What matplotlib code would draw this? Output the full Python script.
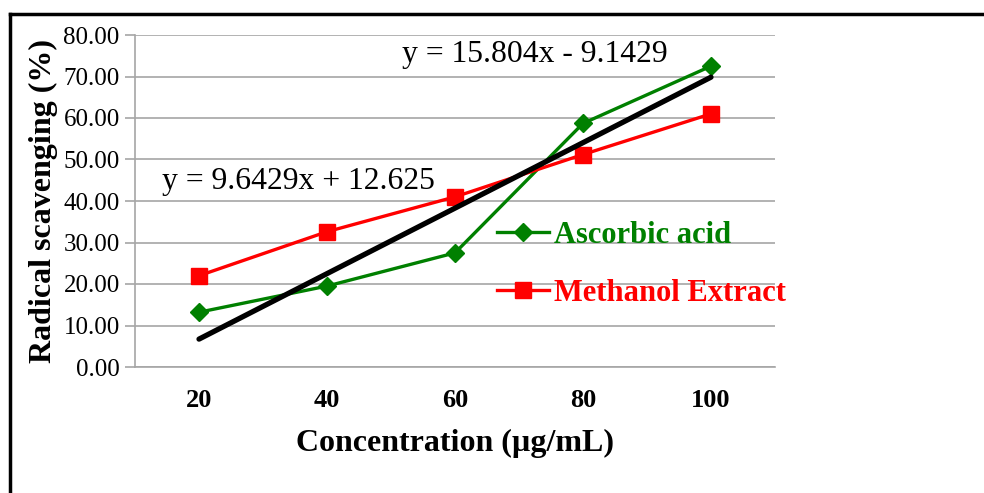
import numpy as np
import matplotlib.pyplot as plt
from matplotlib.lines import Line2D

plt.rcParams["font.family"] = ["Liberation Serif", "DejaVu Serif"]

# data
concentration = ["20", "40", "60", "80", "100"]
ascorbic_acid = [13.2, 19.5, 27.5, 58.7, 72.5]
methanol_extract = [22.0, 32.6, 41.0, 51.2, 61.0]
y_ticks = [0, 10, 20, 30, 40, 50, 60, 70, 80]

GREEN = "#008000"
RED = "#FF0000"
GRID = "#A6A6A6"

fig = plt.figure(figsize=(9.84, 4.93), dpi=100)
ax = fig.add_axes([135 / 984, 1 - 367 / 493, 640 / 984, 332 / 493])

x = np.arange(len(concentration))
ax.plot(x, ascorbic_acid, color=GREEN, lw=2.4, marker="D", ms=9,
        label="Ascorbic acid", zorder=3)
ax.plot(x, methanol_extract, color=RED, lw=2.4, marker="s", ms=12,
        label="Methanol Extract", zorder=3)

# linear trend of the ascorbic acid series (Excel style, x = 1..5)
slope, icpt = np.polyfit(x + 1, ascorbic_acid, 1)
ax.plot(x, slope * (x + 1) + icpt, color="black", lw=3.8,
        solid_capstyle="round", zorder=4)

ax.text(1.586, 75.2, "y = 15.804x - 9.1429", fontsize=22.8, ha="left", va="center")
ax.text(-0.29, 44.6, "y = 9.6429x + 12.625", fontsize=22.8, ha="left", va="center")

ax.set_xlim(-0.5, 4.5)
ax.set_ylim(0, 80)
ax.set_xticks(x)
ax.set_xticklabels(concentration, fontsize=19, fontweight="bold")
ax.set_yticks(y_ticks)
ax.set_yticklabels([f"{v:.2f}" for v in y_ticks], fontsize=18)
ax.tick_params(axis="x", length=0, pad=16)
ax.tick_params(axis="y", length=7, color=GRID, width=1.2, pad=4)
ax.yaxis.grid(True, color=GRID, lw=1.2)
ax.set_axisbelow(True)
for side in ["top", "right"]:
    ax.spines[side].set_visible(False)
for side in ["left", "bottom"]:
    ax.spines[side].set_color(GRID)
    ax.spines[side].set_linewidth(1.2)

ax.set_xlabel("Concentration (\u00b5g/mL)", fontsize=23, fontweight="bold",
              labelpad=12)
ax.set_ylabel("Radical scavenging (%)", fontsize=23, fontweight="bold",
              labelpad=4)

leg = ax.legend(loc="center left", bbox_to_anchor=(0.566, 0.31), frameon=False,
                prop={"size": 22, "weight": "bold"}, handlelength=1.7,
                handletextpad=0.15, labelspacing=0.95, borderaxespad=0,
                borderpad=0)
for txt, col in zip(leg.get_texts(), [GREEN, RED]):
    txt.set_color(col)

# outer frame (cut at right and bottom like the reference)
fig.add_artist(Line2D([10 / 984, 1], [1 - 14 / 493] * 2, color="black", lw=2.5))
fig.add_artist(Line2D([10 / 984] * 2, [0, 1 - 14 / 493], color="black", lw=2.5))

fig.savefig("out.png", dpi=100)
